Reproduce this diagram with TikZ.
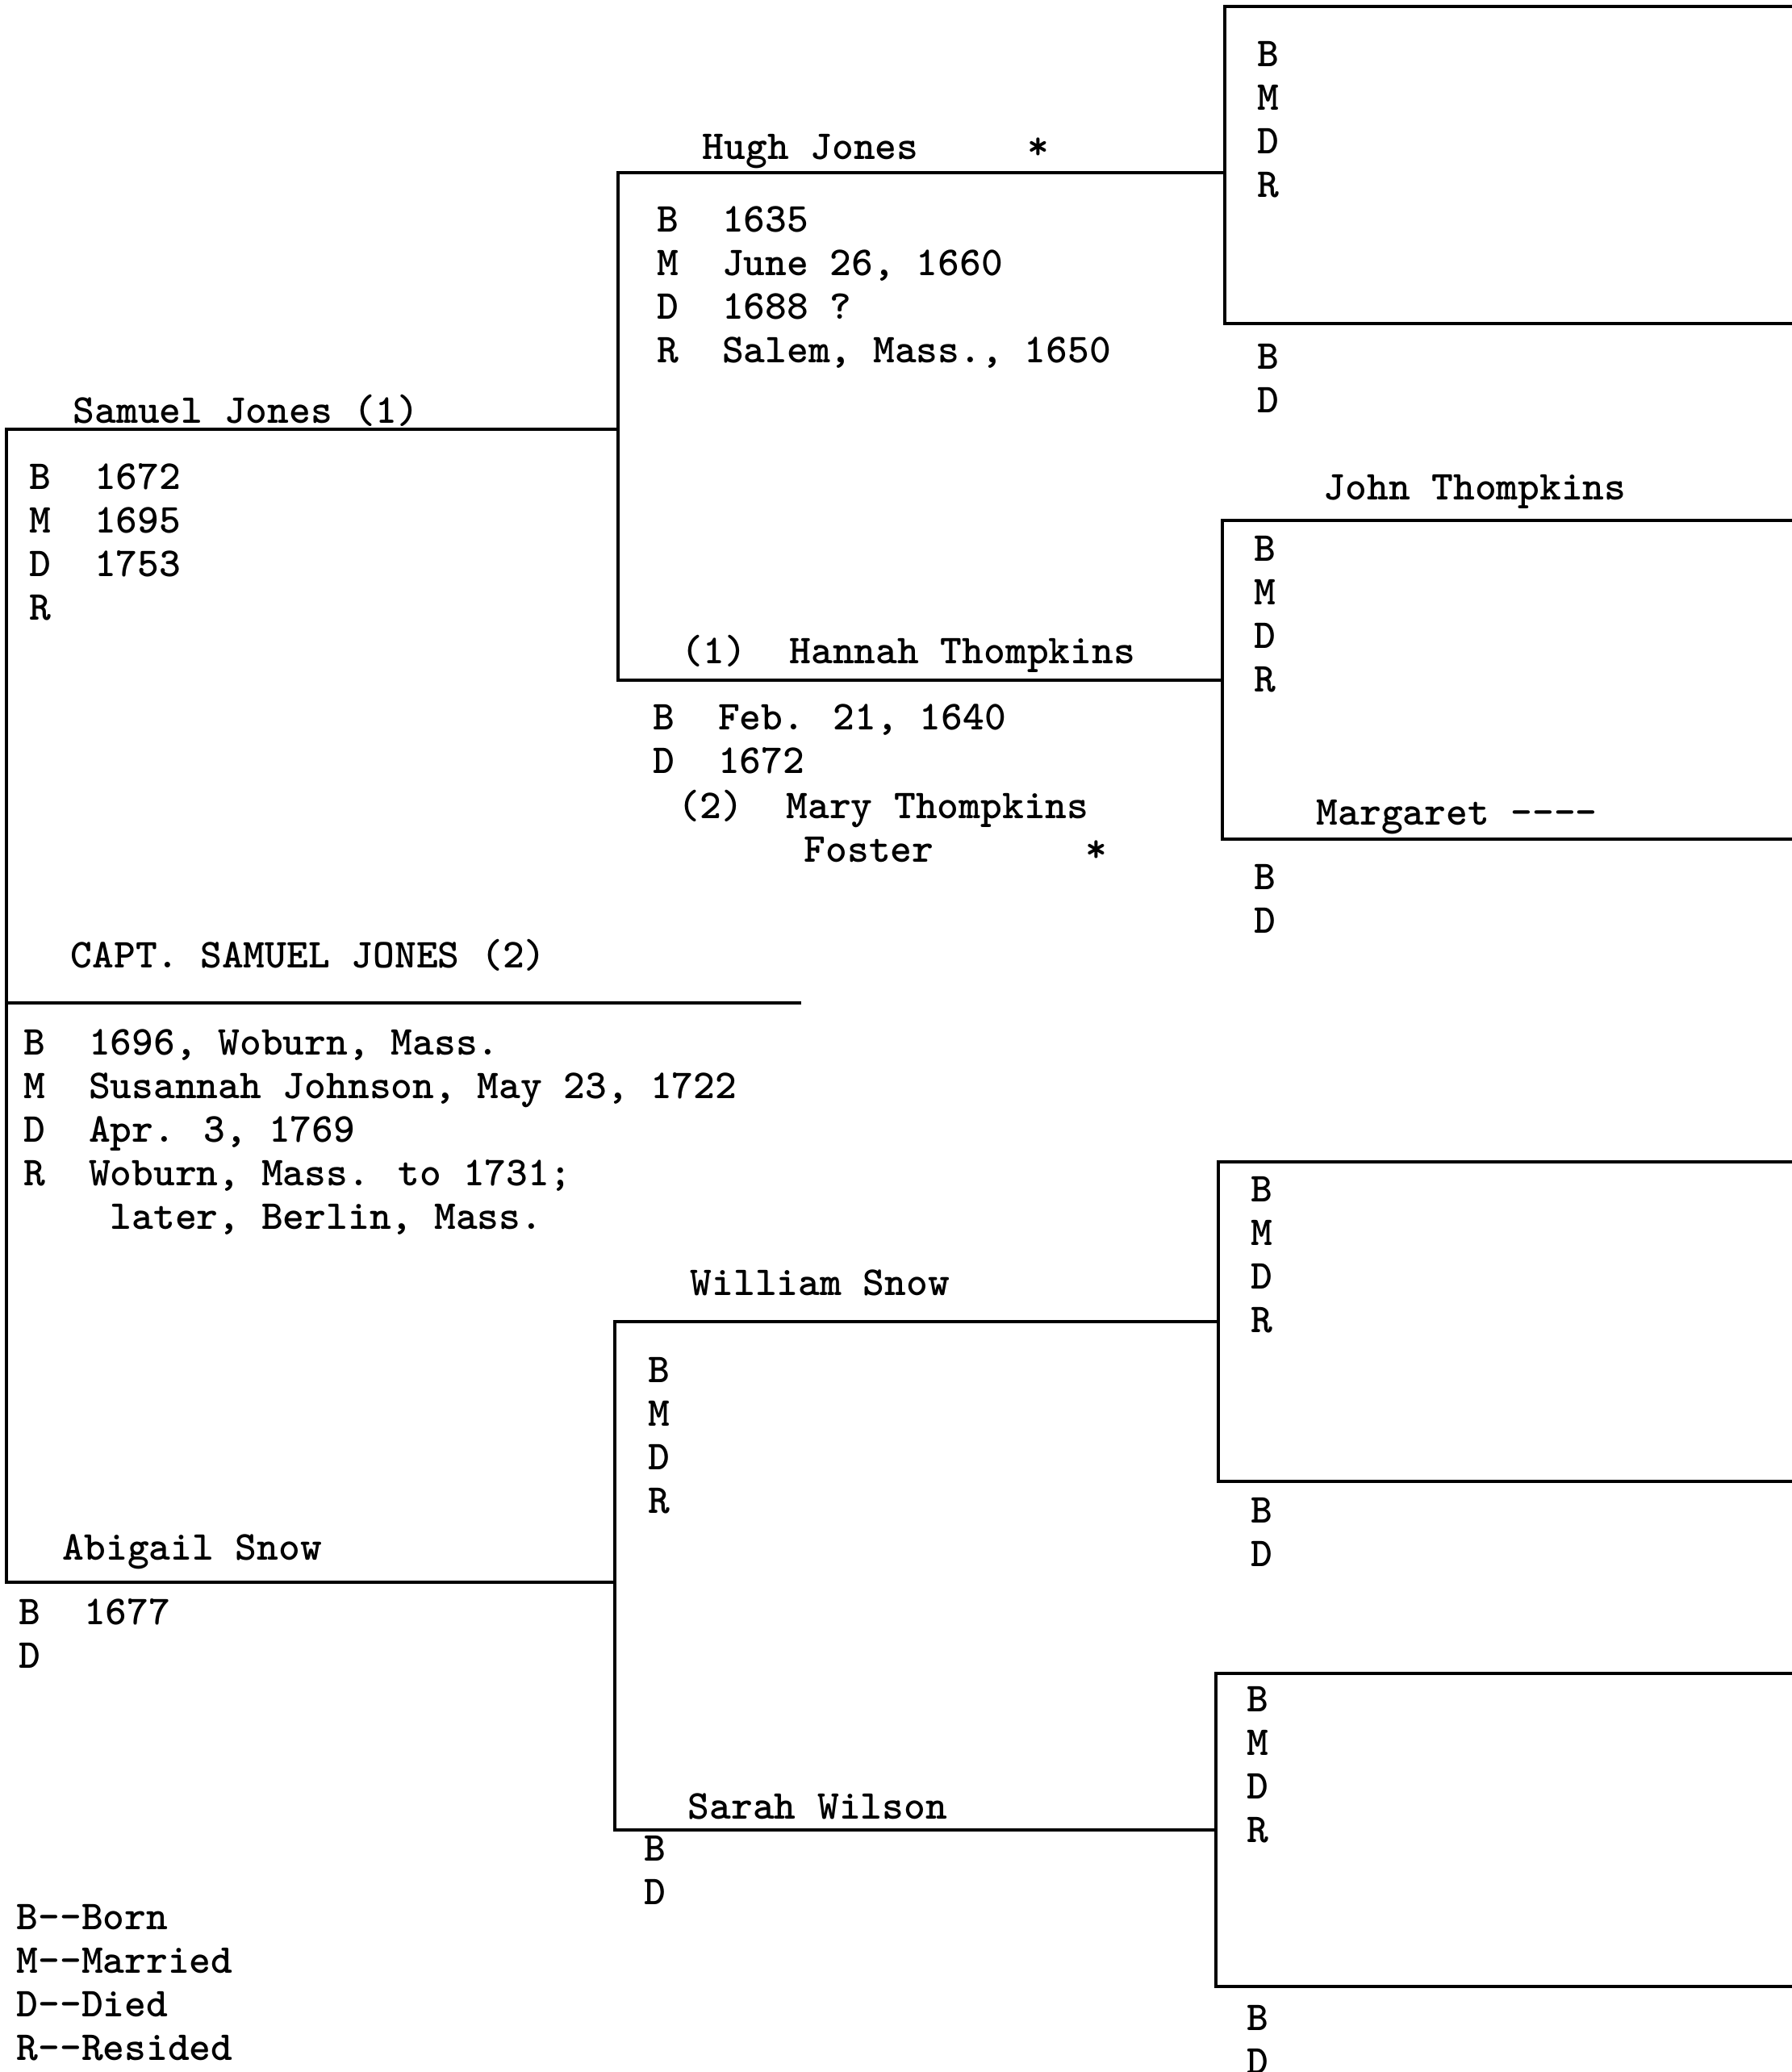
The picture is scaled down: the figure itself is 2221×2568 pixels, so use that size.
\documentclass[tikz,border=0pt]{standalone}
\usetikzlibrary{positioning}
\newcommand{\rows}[1]{\begin{tabular}[t]{@{}l@{}}#1\end{tabular}}
\tikzset{
  chart/.style={line width=0.9pt, line cap=rect},
  entry/.style={anchor=base west, inner sep=0pt,
    font=\ttfamily\bfseries\fontsize{14.5}{15.37}\selectfont},
}
\begin{document}
\begin{tikzpicture}[x=0.01cm, y=-0.01cm]
  \useasboundingbox (0,0) rectangle (2221,2568);

  % right-hand boxes (great-grandparents)
  \foreach \bx/\bt/\bb [count=\i] in {1518/8/401, 1515/645/1040, 1510/1440/1836, 1507/2074/2462} {
    \coordinate (box\i-nw) at (\bx,\bt);
    \coordinate (box\i-sw) at (\bx,\bb);
    \coordinate (box\i-ne) at (2221,\bt);
    \coordinate (box\i-se) at (2221,\bb);
    \draw[chart] (box\i-ne) -- (box\i-nw) -- (box\i-sw) -- (box\i-se);
  }

  % left column
  \coordinate (sam) at (8,532);
  \coordinate (abi) at (8,1961);
  \coordinate (capt) at (8,1243);
  \coordinate (captR) at (991,1243);
  \draw[chart] (sam) -- (abi);
  \draw[chart] (capt) -- (captR);

  % Jones side
  \coordinate (hugh) at (766,214);
  \coordinate (hannah) at (766,843);
  \draw[chart] (sam) -- (sam -| hugh);
  \draw[chart] (hugh) -- (hannah);
  \draw[chart] (hugh) -- (hugh -| box1-nw);
  \draw[chart] (hannah) -- (hannah -| box2-nw);

  % Snow side
  \coordinate (william) at (762,1638);
  \coordinate (sarah) at (762,2268);
  \draw[chart] (abi) -- (abi -| william);
  \draw[chart] (william) -- (sarah);
  \draw[chart] (william) -- (william -| box3-nw);
  \draw[chart] (sarah) -- (sarah -| box4-nw);

  % names and dates
  \node[entry] (hughname) at (870,197) {Hugh Jones};
  \node[entry] (hughstar) at (1273,197) {*};
  \node[entry] (hughdata) at (814,287) {\rows{B\ \ 1635\\M\ \ June 26, 1660\\D\ \ 1688 ?\\R\ \ Salem, Mass., 1650}};

  \node[entry] (samname) at (90,524) {Samuel Jones (1)};
  \node[entry] (samdata) at (36,606) {\rows{B\ \ 1672\\M\ \ 1695\\D\ \ 1753\\R}};

  \node[entry] (box1data) at (1558,82) {\rows{B\\M\\D\\R}};
  \node[entry] (box1wife) at (1558,457) {\rows{B\\D}};

  \node[entry] (johnname) at (1640,619) {John Thompkins};
  \node[entry] (johndata) at (1554,695) {\rows{B\\M\\D\\R}};
  \node[entry] (margname) at (1631,1022) {Margaret ----};
  \node[entry] (margdata) at (1554,1102) {\rows{B\\D}};

  \node[entry] (hannahname) at (844,822) {(1)\ \ Hannah Thompkins};
  \node[entry] (hannahdata) at (809,904) {\rows{B\ \ Feb. 21, 1640\\D\ \ 1672}};
  \node[entry] (maryname) at (840,1014) {(2)\ \ Mary Thompkins};
  \node[entry] (maryfoster) at (996,1068) {Foster};
  \node[entry] (marystar) at (1345,1068) {*};

  \node[entry] (captname) at (87,1199) {CAPT. SAMUEL JONES (2)};
  \node[entry] (captdata) at (29,1307) {\rows{B\ \ 1696, Woburn, Mass.\\M\ \ Susannah Johnson, May 23, 1722\\D\ \ Apr. 3, 1769\\R\ \ Woburn, Mass. to 1731;\\\hphantom{R\ \ \ }later, Berlin, Mass.}};

  \node[entry] (williamname) at (855,1605) {William Snow};
  \node[entry] (williamdata) at (803,1713) {\rows{B\\M\\D\\R}};
  \node[entry] (box3data) at (1550,1489) {\rows{B\\M\\D\\R}};
  \node[entry] (box3wife) at (1550,1887) {\rows{B\\D}};

  \node[entry] (abiname) at (77,1933) {Abigail Snow};
  \node[entry] (abidata) at (23,2013) {\rows{B\ \ 1677\\D}};

  \node[entry] (box4data) at (1545,2121) {\rows{B\\M\\D\\R}};
  \node[entry] (box4wife) at (1545,2516) {\rows{B\\D}};

  \node[entry] (sarahname) at (852,2254) {Sarah Wilson};
  \node[entry] (sarahdata) at (798,2306) {\rows{B\\D}};

  % key
  \node[entry] (legend) at (20,2391) {\rows{B-\kern0pt-Born\\M-\kern0pt-Married\\D-\kern0pt-Died\\R-\kern0pt-Resided}};
\end{tikzpicture}
\end{document}
